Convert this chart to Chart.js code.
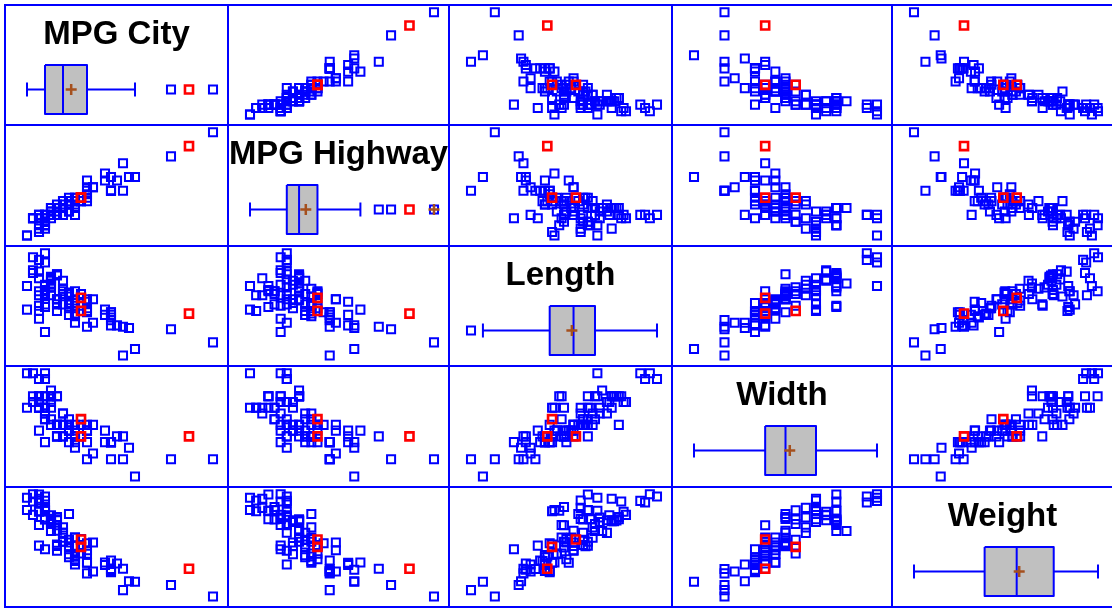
<!DOCTYPE html>
<html>
<head>
<meta charset="utf-8">
<script src="https://cdn.jsdelivr.net/npm/chart.js@4.4.1/dist/chart.umd.min.js"></script>
<style>
  body { margin: 0; background: #fff; }
  #matrix { position: relative; width: 1112px; height: 608px; overflow: hidden; background: #fff; }
  .line { position: absolute; background: #0000ff; }
  .cell { position: absolute; }
</style>
</head>
<body>
<div id="matrix"></div>
<script>
// one entry per car, same order in every array
const carNames = [
  'Acura Integra', 'Acura Legend', 'Audi 90', 'Audi 100', 'BMW 535i', 'Buick Century', 'Buick LeSabre', 'Buick Roadmaster',
  'Buick Riviera', 'Cadillac DeVille', 'Cadillac Seville', 'Chevrolet Cavalier', 'Chevrolet Corsica', 'Chevrolet Camaro',
  'Chevrolet Lumina', 'Chevrolet Lumina_APV', 'Chevrolet Astro', 'Chevrolet Caprice', 'Chevrolet Corvette', 'Chrysler Concorde',
  'Chrysler LeBaron', 'Chrysler Imperial', 'Dodge Colt', 'Dodge Shadow', 'Dodge Spirit', 'Dodge Caravan', 'Dodge Dynasty',
  'Dodge Stealth', 'Eagle Summit', 'Eagle Vision', 'Ford Festiva', 'Ford Escort', 'Ford Tempo', 'Ford Mustang', 'Ford Probe',
  'Ford Aerostar', 'Ford Taurus', 'Ford Crown_Victoria', 'Geo Metro', 'Geo Storm', 'Honda Prelude', 'Honda Civic', 'Honda Accord',
  'Hyundai Excel', 'Hyundai Elantra', 'Hyundai Scoupe', 'Hyundai Sonata', 'Infiniti Q45', 'Lexus ES300', 'Lexus SC300',
  'Lincoln Continental', 'Lincoln Town_Car', 'Mazda 323', 'Mazda Protege', 'Mazda 626', 'Mazda MPV', 'Mazda RX-7',
  'Mercedes-Benz 190E', 'Mercedes-Benz 300E', 'Mercury Capri', 'Mercury Cougar', 'Mitsubishi Mirage', 'Mitsubishi Diamante',
  'Nissan Sentra', 'Nissan Altima', 'Nissan Quest', 'Nissan Maxima', 'Oldsmobile Achieva', 'Oldsmobile Cutlass_Ciera',
  'Oldsmobile Silhouette', 'Oldsmobile Eighty-Eight', 'Plymouth Laser', 'Pontiac LeMans', 'Pontiac Sunbird', 'Pontiac Firebird',
  'Pontiac Grand_Prix', 'Pontiac Bonneville', 'Saab 900', 'Saturn SL', 'Subaru Justy', 'Subaru Loyale', 'Subaru Legacy',
  'Suzuki Swift', 'Toyota Tercel', 'Toyota Celica', 'Toyota Camry', 'Toyota Previa', 'Volkswagen Fox', 'Volkswagen Eurovan',
  'Volkswagen Passat', 'Volkswagen Corrado', 'Volvo 240', 'Volvo 850'
];
const mpgCity = [25, 18, 20, 19, 22, 22, 19, 16, 19, 16, 16, 25, 25, 19, 21, 18, 15, 17, 17, 20, 23, 20, 29, 23, 22, 17, 21, 18, 29, 20,
  31, 23, 22, 22, 24, 15, 21, 18, 46, 30, 24, 42, 24, 29, 22, 26, 20, 17, 18, 18, 17, 18, 29, 28, 26, 18, 17, 20, 19, 23,
  19, 29, 18, 29, 24, 17, 21, 24, 23, 18, 19, 23, 31, 23, 19, 19, 19, 20, 28, 33, 25, 23, 39, 32, 25, 22, 18, 25, 17, 21,
  18, 21, 20];
const mpgHighway = [31, 25, 26, 26, 30, 31, 28, 25, 27, 25, 25, 36, 34, 28, 29, 23, 20, 26, 25, 28, 28, 26, 33, 29, 27, 21, 28, 24, 33, 28,
  33, 30, 27, 29, 30, 20, 30, 26, 50, 36, 31, 46, 31, 33, 29, 34, 27, 22, 24, 23, 26, 26, 37, 36, 34, 24, 25, 29, 25, 26,
  26, 33, 24, 33, 30, 23, 26, 31, 31, 23, 28, 30, 41, 31, 28, 27, 28, 26, 38, 37, 30, 30, 43, 37, 32, 29, 22, 33, 21, 30,
  25, 28, 28];
const lengthIn = [177, 195, 180, 193, 186, 189, 200, 216, 198, 206, 204, 182, 184, 193, 198, 178, 194, 214, 179, 203, 183, 203, 174, 172, 181, 175, 192, 180, 174, 202,
  141, 171, 177, 180, 179, 176, 192, 212, 151, 164, 175, 173, 185, 168, 172, 166, 184, 200, 188, 191, 205, 219, 164, 172, 184, 190, 169, 175, 187, 166,
  199, 172, 190, 170, 181, 190, 188, 188, 190, 194, 201, 173, 163, 181, 196, 195, 200, 184, 176, 146, 175, 179, 161, 162, 174, 188, 187, 163, 187, 180,
  159, 190, 184];
const widthIn = [68, 71, 67, 70, 69, 69, 74, 78, 73, 73, 74, 68, 68, 74, 71, 74, 78, 77, 74, 74, 68, 69, 66, 67, 68, 72, 69, 72, 66, 74,
  63, 67, 68, 68, 70, 72, 71, 78, 63, 67, 70, 67, 67, 63, 66, 64, 69, 72, 70, 72, 73, 77, 66, 66, 69, 72, 68, 67, 69, 65,
  73, 66, 70, 66, 67, 74, 69, 69, 69, 74, 74, 67, 67, 66, 75, 72, 74, 67, 68, 60, 66, 67, 63, 65, 69, 70, 71, 63, 72, 67,
  66, 67, 69];
const weightLb = [2705, 3560, 3375, 3405, 3640, 2880, 3470, 4105, 3495, 3620, 3935, 2490, 2785, 3240, 3195, 3715, 4025, 3910, 3380, 3515,
  3085, 3570, 2270, 2670, 2970, 3705, 3080, 3805, 2295, 3490, 1845, 2530, 2690, 2850, 2710, 3735, 3325, 3950, 1695, 2475,
  2865, 2350, 3040, 2345, 2620, 2285, 2885, 4000, 3510, 3515, 3695, 4055, 2325, 2440, 2970, 3735, 2895, 2920, 3525, 2450,
  3610, 2295, 3730, 2545, 3050, 4100, 3200, 2910, 2890, 3715, 3470, 2640, 2350, 2575, 3240, 3450, 3495, 2775, 2495, 2045,
  2490, 3085, 1965, 2055, 2950, 3030, 3785, 2240, 3960, 2985, 2810, 2985, 3245];
const varLabels = ['MPG City', 'MPG Highway', 'Length', 'Width', 'Weight'];
const highlightMake = 'Honda';

const columns = [mpgCity, mpgHighway, lengthIn, widthIn, weightLb];
const isRed = carNames.map(n => n.startsWith(highlightMake));

const colLines = [5, 228, 449, 672, 892, 1113];
const rowLines = [5, 125, 246, 366, 487, 607];
const BLUE = '#0000ff', RED = '#ff0000', BROWN = '#a5501e', GREY = '#c0c0c0';
const FONT = "'Liberation Sans', Arial, sans-serif";
const TITLE_PAD = 9.5, TITLE_SIZE = 33;

const matrix = document.getElementById('matrix');

function range(vals, size, padLo, padHi) {
  const lo = Math.min(...vals), hi = Math.max(...vals);
  const k = (size - padLo - padHi) / (hi - lo);
  return {min: lo - padLo / k, max: hi + padHi / k};
}

function quantile(sorted, p) {
  const np = sorted.length * p;
  const j = Math.floor(np);
  if (np === j) return (sorted[j - 1] + sorted[j]) / 2;
  return sorted[j];
}

function boxStats(vals) {
  const s = vals.slice().sort((a, b) => a - b);
  const q1 = quantile(s, 0.25), med = quantile(s, 0.5), q3 = quantile(s, 0.75);
  const iqr = q3 - q1;
  const inside = s.filter(v => v >= q1 - 1.5 * iqr && v <= q3 + 1.5 * iqr);
  const mean = vals.reduce((a, b) => a + b, 0) / vals.length;
  return {q1, med, q3, iqr, mean, lo: inside[0], hi: inside[inside.length - 1]};
}

const squareStyle = color => ({
  pointStyle: 'rect', pointRadius: 5.7, pointBorderWidth: color === RED ? 2.6 : 2,
  pointBorderColor: color, pointBackgroundColor: 'rgba(0,0,0,0)', borderColor: color
});

const lineStyle = (pts, extra) => Object.assign({
  data: pts, showLine: true, borderColor: BLUE, borderWidth: 2, pointRadius: 0, tension: 0, fill: false
}, extra || {});

function addLine(x, y, w, h) {
  const d = document.createElement('div');
  d.className = 'line';
  Object.assign(d.style, {left: x + 'px', top: y + 'px', width: w + 'px', height: h + 'px'});
  matrix.appendChild(d);
}

function makeCanvas(i, j) {
  const left = colLines[j] + 1, top = rowLines[i] + 1;
  const w = colLines[j + 1] - colLines[j] - 2, h = rowLines[i + 1] - rowLines[i] - 2;
  const c = document.createElement('canvas');
  c.className = 'cell';
  c.width = w; c.height = h;
  Object.assign(c.style, {left: left + 'px', top: top + 'px', width: w + 'px', height: h + 'px'});
  matrix.appendChild(c);
  return c;
}

const baseOptions = (xr, yr, title) => ({
  responsive: false, animation: false, events: [], devicePixelRatio: 1,
  layout: {padding: 0, autoPadding: false},
  plugins: {
    legend: {display: false}, tooltip: {enabled: false},
    title: title ? {display: true, text: title, color: '#000', padding: {top: TITLE_PAD, bottom: 0},
      font: {family: FONT, size: TITLE_SIZE, weight: 'bold', lineHeight: 1.2}} : {display: false}
  },
  scales: {
    x: Object.assign({type: 'linear', display: false}, xr),
    y: Object.assign({type: 'linear', display: false}, yr)
  }
});

function scatterCell(i, j) {
  const c = makeCanvas(i, j);
  const xs = columns[j], ys = columns[i];
  const blue = [], red = [];
  xs.forEach((x, k) => (isRed[k] ? red : blue).push({x: x, y: ys[k]}));
  new Chart(c, {
    type: 'scatter',
    data: {datasets: [
      Object.assign({data: red, order: 0}, squareStyle(RED)),
      Object.assign({data: blue, order: 1}, squareStyle(BLUE))
    ]},
    options: baseOptions(range(xs, c.width, 21, 14), range(ys, c.height, 9.5, 6.3), null)
  });
}

function boxCell(i) {
  const c = makeCanvas(i, i);
  const vals = columns[i];
  const st = boxStats(vals);
  const H = c.height;
  const top = 59, bot = 108, mid = 83.5, cap = 7;
  const outBlue = [], outRed = [], far = [];
  vals.forEach((v, k) => {
    if (v < st.lo || v > st.hi) {
      (isRed[k] ? outRed : outBlue).push({x: v, y: mid});
      if (v > st.q3 + 3 * st.iqr || v < st.q1 - 3 * st.iqr) far.push({x: v, y: mid});
    }
  });
  const cross = pts => ({data: pts, pointStyle: 'cross', pointRadius: 5.5, pointBorderWidth: 2.5,
    pointBorderColor: BROWN, borderColor: BROWN, order: 0});
  new Chart(c, {
    type: 'scatter',
    data: {datasets: [
      cross([{x: st.mean, y: mid}]),
      cross(far),
      Object.assign({data: outRed, order: 1}, squareStyle(RED)),
      Object.assign({data: outBlue, order: 1}, squareStyle(BLUE)),
      lineStyle([{x: st.med, y: top}, {x: st.med, y: bot}], {order: 2}),
      lineStyle([{x: st.q1, y: top}, {x: st.q3, y: top}, {x: st.q3, y: bot}, {x: st.q1, y: bot}, {x: st.q1, y: top}],
        {fill: 'shape', backgroundColor: GREY, borderJoinStyle: 'round', order: 3}),
      lineStyle([{x: st.lo, y: mid}, {x: st.q1, y: mid}], {order: 4}),
      lineStyle([{x: st.q3, y: mid}, {x: st.hi, y: mid}], {order: 4}),
      lineStyle([{x: st.lo, y: mid - cap}, {x: st.lo, y: mid + cap}], {order: 4}),
      lineStyle([{x: st.hi, y: mid - cap}, {x: st.hi, y: mid + cap}], {order: 4})
    ]},
    options: baseOptions(range(vals, c.width, 21, 14),
      {min: TITLE_PAD + TITLE_SIZE * 1.2, max: H, reverse: true}, varLabels[i])
  });
}

for (const x of colLines) addLine(x - 1, rowLines[0] - 1, 2, rowLines[5] - rowLines[0] + 2);
for (const y of rowLines) addLine(colLines[0] - 1, y - 1, colLines[5] - colLines[0] + 2, 2);

for (let i = 0; i < 5; i++) {
  for (let j = 0; j < 5; j++) {
    if (i === j) boxCell(i); else scatterCell(i, j);
  }
}
</script>
</body>
</html>
